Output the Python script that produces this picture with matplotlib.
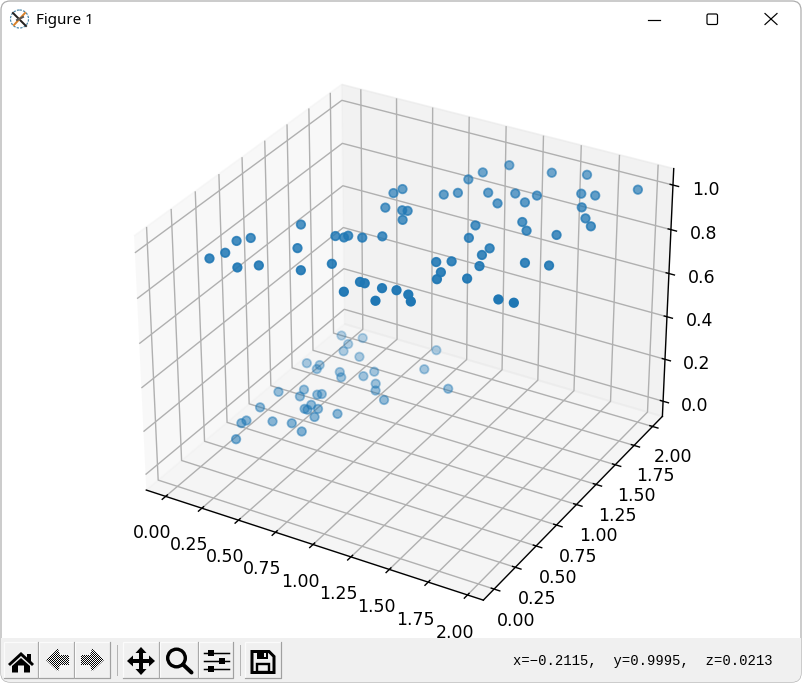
import numpy as np
import matplotlib
matplotlib.use("Agg")
import matplotlib.pyplot as plt
from matplotlib.patches import Polygon, Rectangle, FancyBboxPatch, Circle

# points on the z=1 plane
x_top = [0.26,0.30,0.28,0.33,0.45,0.54,0.49,0.62,0.77,0.88,0.73,0.78,0.79,0.87,0.96,0.80,0.75,0.77,0.90,0.93,0.96,1.10,1.12,1.15,1.26,1.34,1.42,1.47,1.30,1.16,1.07,1.42,1.61,1.04,1.01,1.07,1.22,1.36,1.48,1.33,1.46,1.69,1.77,1.95,1.77,1.85,1.92,1.56,1.63,1.80,1.35,1.39,1.55,1.55,1.37,1.44,1.60,1.80,1.93,1.45,1.47,1.61,1.87,1.96]
y_top = [0.03,0.13,0.28,0.35,0.02,0.10,0.63,0.38,0.17,0.32,0.61,0.62,0.65,0.67,0.74,1.05,1.23,1.30,1.07,1.08,0.97,0.08,0.22,0.22,0.22,0.24,0.23,0.17,0.08,1.88,1.72,1.92,2.00,1.60,1.36,1.42,1.51,1.58,1.62,1.42,1.51,1.77,1.79,1.98,1.62,1.51,1.44,1.29,1.21,1.25,1.12,0.97,0.92,0.83,0.63,0.68,0.71,0.87,0.91,0.54,0.46,0.55,0.43,0.44]
# points on the z=0 plane
x_bottom = [0.02,0.15,0.11,0.13,0.25,0.62,0.01,0.09,0.10,0.24,0.28,0.39,0.42,0.67,0.50,0.54,0.91,0.64,0.16,0.04,0.18,0.26,0.28,0.29,0.28,0.30,0.35,0.38,0.48,0.04,0.05,0.04,0.19,0.30,0.40,0.11]
y_bottom = [1.84,1.88,1.77,1.68,1.67,1.98,1.44,1.46,1.41,1.45,1.40,1.48,1.56,1.74,1.44,1.37,1.61,1.30,1.16,1.06,1.08,1.15,1.17,1.03,0.97,0.97,1.01,0.92,1.02,0.85,0.68,0.64,0.75,0.79,0.74,0.47]

xy_ticks = [0.0, 0.25, 0.5, 0.75, 1.0, 1.25, 1.5, 1.75, 2.0]
z_ticks = [0.0, 0.2, 0.4, 0.6, 0.8, 1.0]

W, H = 802, 683
LW = 72 / 125
fig = plt.figure(figsize=(W/125, H/125), dpi=125)

ax = fig.add_axes([1/W, 45/H, 800/W, 600/H], projection='3d')
xs = np.array(x_top + x_bottom)
ys = np.array(y_top + y_bottom)
zs = np.r_[np.ones(len(x_top)), np.zeros(len(x_bottom))]
ax.scatter(xs, ys, zs, s=24)
ax.set_xlim(-0.135, 2.10)
ax.set_ylim(-0.125, 2.135)
ax.set_zlim(-0.073, 1.073)
ax.set_xticks(xy_ticks)
ax.set_yticks(xy_ticks)
ax.set_zticks(z_ticks)

# window frame and toolbar, in screen pixels
ui = fig.add_axes([0, 0, 1, 1], zorder=-1)
ui.axis('off')

frame = FancyBboxPatch((1, 1), W-2, H-2, boxstyle="round,pad=0,rounding_size=9",
                       fc='white', ec='#ababab', lw=1.2*LW)
ui.add_patch(frame)
bar = Rectangle((0, 638), W, 45, fc='#f0f0f0', ec='none')
ui.add_patch(bar)
bar.set_clip_path(frame)

# title bar
ui.add_patch(Circle((19.5, 19), 9, fc='white', ec='#4a86a8', lw=1.2*LW, ls=(0, (2, 1))))
ui.plot([13, 26], [13, 26], color='#222222', lw=2*LW)
ui.plot([14, 25], [25, 13], color='#d9822b', lw=2*LW)
ui.plot([17, 23], [20, 17], color='#555555', lw=2*LW)
ui.text(36, 20, 'Figure 1', fontsize=8.7, family='Noto Sans', va='center', ha='left')
ui.plot([648, 660], [19.5, 19.5], color='black', lw=1.2*LW)
ui.add_patch(FancyBboxPatch((707, 14), 10.5, 10.5, boxstyle="round,pad=0,rounding_size=1.5",
                            fc='none', ec='black', lw=1.2*LW))
ui.plot([765, 777], [13.5, 24.5], color='black', lw=1.2*LW)
ui.plot([765, 777], [24.5, 13.5], color='black', lw=1.2*LW)

# toolbar buttons
buttons = [(4, 38), (39, 74), (75, 110), (123, 159), (160, 198), (199, 233), (245, 281)]
for x0, x1 in buttons:
    ui.add_patch(Rectangle((x0, 642), x1-x0, 36, fc='#f0f0f0', ec='none'))
    ui.plot([x0, x0, x1], [678, 642, 642], color='#fbfbfb', lw=1.2*LW)
    ui.plot([x0, x1, x1], [678, 678, 642], color='#a0a0a0', lw=1.2*LW)
for x0 in (116.5, 239.5):
    ui.plot([x0, x0], [645, 675], color='#b4b4b4', lw=1*LW)

def black(pts):
    ui.add_patch(Polygon(pts, closed=True, fc='black', ec='none'))

# home
black([(8,664),(21,652),(27,657.5),(27,654),(31,654),(31,661),(34,664),(32,666),(21,656),(10,666)])
black([(12,666),(21,658),(30,666),(30,672.5),(24,672.5),(24,665.5),(18,665.5),(18,672.5),(12,672.5)])

# back and forward are greyed out, drawn dithered
checker = np.indices((23, 23)).sum(axis=0) % 2
for pts, ext in [([(46,660),(58,648.5),(60,655),(69,655),(69,665),(60,665),(58,671.5)], (46, 69, 671.5, 648.5)),
                 ([(104,660),(92,648.5),(90,655),(81,655),(81,665),(90,665),(92,671.5)], (81, 104, 671.5, 648.5))]:
    im = ui.imshow(checker, cmap='gray', extent=ext, aspect='auto', interpolation='nearest', zorder=3)
    clip = Polygon(pts, closed=True, fc='none', ec='none')
    ui.add_patch(clip)
    im.set_clip_path(clip)

# pan
cx, cy = 141, 661
a, b, c, d = 14, 8, 2, 5.5
black([(cx-a,cy),(cx-b,cy-d),(cx-b,cy-c),(cx-c,cy-c),(cx-c,cy-b),(cx-d,cy-b),(cx,cy-a),(cx+d,cy-b),(cx+c,cy-b),
       (cx+c,cy-c),(cx+b,cy-c),(cx+b,cy-d),(cx+a,cy),(cx+b,cy+d),(cx+b,cy+c),(cx+c,cy+c),(cx+c,cy+b),(cx+d,cy+b),
       (cx,cy+a),(cx-d,cy+b),(cx-c,cy+b),(cx-c,cy+c),(cx-b,cy+c),(cx-b,cy+d)])

# zoom
ui.add_patch(Circle((176.5, 658), 8.8, fc='none', ec='black', lw=3.4*LW))
ui.plot([183, 191.5], [664.5, 672.5], color='black', lw=4*LW, solid_capstyle='round')

# subplots
for y, kx in [(652.7, 210.7), (661, 221.7), (669, 210.7)]:
    ui.plot([204, 228.7], [y, y], color='black', lw=1.5*LW)
    ui.add_patch(Rectangle((kx-3, y-3), 6, 6, fc='black', ec='none'))

# save
ui.add_patch(Polygon([(252,651.5),(269,651.5),(274,656.5),(274,672.5),(252,672.5)], closed=True,
                     fc='none', ec='black', lw=3*LW))
ui.add_patch(Rectangle((257, 651), 11, 8, fc='black', ec='none'))
ui.add_patch(Rectangle((263.5, 652.5), 2.5, 4.5, fc='#f0f0f0', ec='none'))
ui.add_patch(Rectangle((257, 664), 12, 8, fc='none', ec='black', lw=2.4*LW))

ui.text(513, 661, 'x=\u22120.2115,  y=0.9995,  z=0.0213', family='Liberation Mono',
        fontsize=8.0, va='center', ha='left')

ui.set_xlim(0, W)
ui.set_ylim(H, 0)

fig.savefig("out.png", dpi=125)
